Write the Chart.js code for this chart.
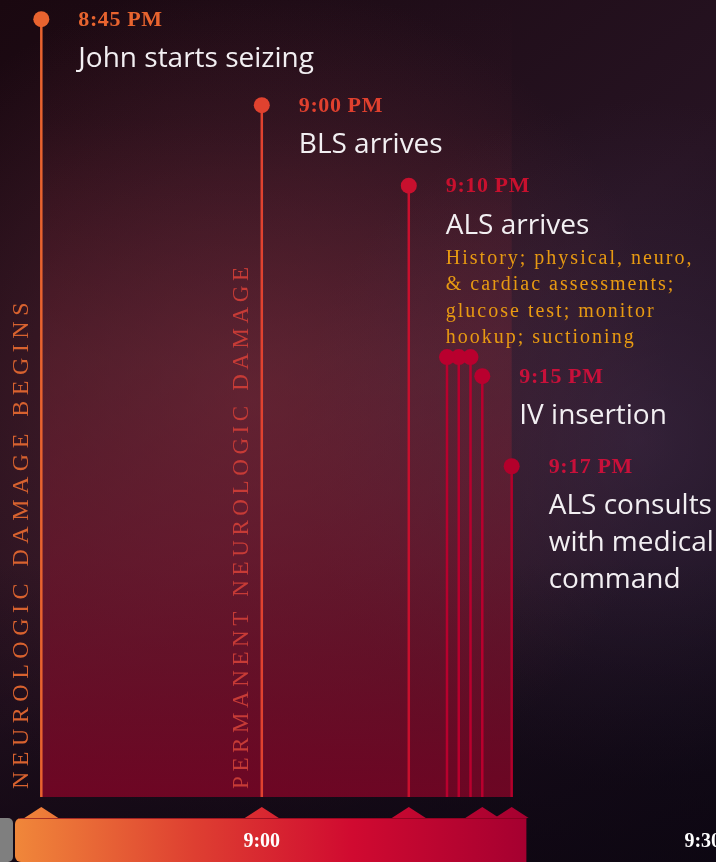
<!DOCTYPE html>
<html>
<head>
<meta charset="utf-8">
<title>Seizure response timeline</title>
<script src="https://cdn.jsdelivr.net/npm/chart.js@4/dist/chart.umd.min.js"></script>
<style>
  html, body { margin: 0; padding: 0; background: #1c0c16; }
  #wrap { position: relative; width: 716px; height: 862px; }
</style>
</head>
<body>
<div id="wrap"><canvas id="timeline"></canvas></div>
<script>
// minutes after 8:00 PM
const eventMinutes = [45, 60, 70, 72.6, 73.4, 74.2, 75, 77];
// height of each marker, % of the plot height
const eventLevels = [97.6, 86.8, 76.7, 55.2, 55.2, 55.2, 52.8, 41.5];
const eventTitles = [
    ["John starts seizing"],
    ["BLS arrives"],
    ["ALS arrives"],
    [], [], [],
    ["IV insertion"],
    ["ALS consults", "with medical", "command"],
];
const eventColors = ["#e8632f", "#e0422f", "#c8102e", "#b9002e", "#b9002e", "#b9002e", "#b9002e", "#b3002b"];
const timeColors = ["#e8642f", "#e0402e", "#c8102e", null, null, null, "#c8103a", "#c8103a"];
const alsNotes = ["History; physical, neuro,", "& cardiac assessments;", "glucose test; monitor", "hookup; suctioning"];

const phaseLabels = ["NEUROLOGIC DAMAGE BEGINS", "PERMANENT NEUROLOGIC DAMAGE"];
const phaseStarts = [45, 60];
const phaseColors = ["#d8622f", "#c63b36"];

const tickValues = [60, 90];
const tickLabels = ["9:00", "9:30"];
const timelineEnd = 78;

function formatTime(m) {
    const h = 8 + Math.floor(m / 60);
    const mm = Math.round(m % 60);
    return h + ":" + String(mm).padStart(2, "0") + " PM";
}

// background, shaded damage window and the bottom time bar
const backdrop = {
    id: "backdrop",
    beforeDraw(chart) {
        const { ctx, width, height, chartArea: a, scales: { x } } = chart;
        ctx.save();

        let g = ctx.createLinearGradient(0, 0, width, height);
        g.addColorStop(0, "#1a0810");
        g.addColorStop(0.5, "#261322");
        g.addColorStop(1, "#100c1a");
        ctx.fillStyle = g;
        ctx.fillRect(0, 0, width, height);

        g = ctx.createRadialGradient(250, 400, 0, 250, 400, 420);
        g.addColorStop(0, "rgba(110,45,60,0.55)");
        g.addColorStop(1, "rgba(110,45,60,0)");
        ctx.fillStyle = g;
        ctx.fillRect(0, 0, width, height);

        g = ctx.createRadialGradient(640, 440, 0, 640, 440, 340);
        g.addColorStop(0, "rgba(75,52,85,0.45)");
        g.addColorStop(1, "rgba(75,52,85,0)");
        ctx.fillStyle = g;
        ctx.fillRect(0, 0, width, height);

        g = ctx.createLinearGradient(0, 560, 0, height);
        g.addColorStop(0, "rgba(12,4,14,0)");
        g.addColorStop(1, "rgba(12,4,14,0.65)");
        ctx.fillStyle = g;
        ctx.fillRect(0, 0, width, height);

        // damage window between first and last event
        const x0 = x.getPixelForValue(eventMinutes[0]);
        const x1 = x.getPixelForValue(eventMinutes[eventMinutes.length - 1]);
        g = ctx.createLinearGradient(0, a.top, 0, a.bottom);
        g.addColorStop(0, "rgba(120,35,50,0)");
        g.addColorStop(0.15, "rgba(120,35,50,0.06)");
        g.addColorStop(0.45, "rgba(125,40,55,0.38)");
        g.addColorStop(1, "rgba(125,5,38,0.85)");
        ctx.fillStyle = g;
        ctx.fillRect(x0, a.top, x1 - x0, a.bottom - a.top);

        // time bar
        const barTop = a.bottom + 21;
        const barLeft = a.left + 15;
        const barRight = x.getPixelForValue(timelineEnd);
        const bar = ctx.createLinearGradient(barLeft, 0, barRight, 0);
        bar.addColorStop(0, "#f0873a");
        bar.addColorStop(0.35, "#de3f31");
        bar.addColorStop(0.66, "#d00a30");
        bar.addColorStop(1, "#a50030");

        ctx.fillStyle = "#7f7f7f";
        ctx.beginPath();
        ctx.roundRect(a.left - 6, barTop, 19, 44, 5);
        ctx.fill();

        ctx.fillStyle = bar;
        ctx.beginPath();
        ctx.roundRect(barLeft, barTop, barRight - barLeft, 44, [6, 0, 0, 6]);
        ctx.fill();

        // little arrow heads under each labelled event
        eventMinutes.forEach((m, i) => {
            if (!eventTitles[i].length) return;
            const cx = x.getPixelForValue(m);
            ctx.beginPath();
            ctx.moveTo(cx - 17, barTop);
            ctx.lineTo(cx, barTop - 11);
            ctx.lineTo(cx + 17, barTop);
            ctx.closePath();
            ctx.fill();
        });

        ctx.strokeStyle = "rgba(120,0,25,0.6)";
        ctx.lineWidth = 1;
        ctx.beginPath();
        ctx.moveTo(barLeft + 4, barTop + 0.5);
        ctx.lineTo(barRight, barTop + 0.5);
        ctx.stroke();

        ctx.restore();
    },
};

// captions: times, descriptions and the rotated phase names
const captions = {
    id: "captions",
    afterDatasetsDraw(chart) {
        const { ctx, chartArea: a, scales: { x } } = chart;
        ctx.save();
        ctx.textAlign = "left";
        ctx.textBaseline = "middle";

        const phaseFont = [24, 23];
        const phaseSpacing = ["5.5px", "4.6px"];
        phaseLabels.forEach((text, i) => {
            ctx.save();
            ctx.translate(x.getPixelForValue(phaseStarts[i]) - 20, a.bottom - 8);
            ctx.rotate(-Math.PI / 2);
            ctx.font = phaseFont[i] + "px 'Liberation Serif'";
            ctx.letterSpacing = phaseSpacing[i];
            ctx.fillStyle = phaseColors[i];
            ctx.fillText(text, 0, 0);
            ctx.restore();
        });

        eventMinutes.forEach((m, i) => {
            if (!eventTitles[i].length) return;
            const pt = chart.getDatasetMeta(i).data[1];
            const tx = pt.x + 37;

            ctx.font = "bold 22px 'Liberation Serif'";
            ctx.letterSpacing = "0.6px";
            ctx.fillStyle = timeColors[i];
            ctx.fillText(formatTime(m), tx, pt.y + 1);
            ctx.letterSpacing = "0px";

            ctx.font = "28px 'Open Sans'";
            ctx.fillStyle = "#f2eff2";
            eventTitles[i].forEach((line, k) => ctx.fillText(line, tx, pt.y + 40 + k * 37));

            if (i === 2) {
                ctx.font = "20px 'Liberation Serif'";
                ctx.letterSpacing = "2px";
                ctx.fillStyle = "#e89a12";
                alsNotes.forEach((line, k) => ctx.fillText(line, tx, pt.y + 73 + k * 26.3));
                ctx.letterSpacing = "0px";
            }
        });
        ctx.restore();
    },
};

const datasets = eventMinutes.map((m, i) => ({
    data: [{ x: m, y: 0 }, { x: m, y: eventLevels[i] }],
    borderColor: eventColors[i],
    borderWidth: 2.5,
    pointRadius: [0, 8],
    pointHoverRadius: 0,
    pointBorderWidth: 0,
    pointBackgroundColor: eventColors[i],
    clip: false,
}));

new Chart(document.getElementById("timeline"), {
    type: "line",
    data: { datasets },
    options: {
        responsive: true,
        maintainAspectRatio: false,
        animation: false,
        events: [],
        layout: { autoPadding: false, padding: { left: 0, right: 0, top: 0, bottom: -25 } },
        plugins: {
            legend: { display: false },
            tooltip: { enabled: false },
        },
        scales: {
            x: {
                type: "linear",
                min: 42.19,
                max: 90.9,
                grid: { display: false, drawTicks: false },
                border: { display: false },
                afterBuildTicks: (s) => {
                    s.ticks = tickValues.map((v) => ({ value: v }));
                },
                afterFit: (s) => {
                    s.paddingLeft = 0;
                    s.paddingRight = 0;
                },
                ticks: {
                    padding: 33,
                    color: "#ffffff",
                    autoSkip: false,
                    maxRotation: 0,
                    font: { family: "'Liberation Serif'", size: 20, weight: "bold" },
                    callback: (v, i) => tickLabels[i],
                },
            },
            y: { min: 0, max: 100, display: false },
        },
    },
    plugins: [backdrop, captions],
});
</script>
</body>
</html>
